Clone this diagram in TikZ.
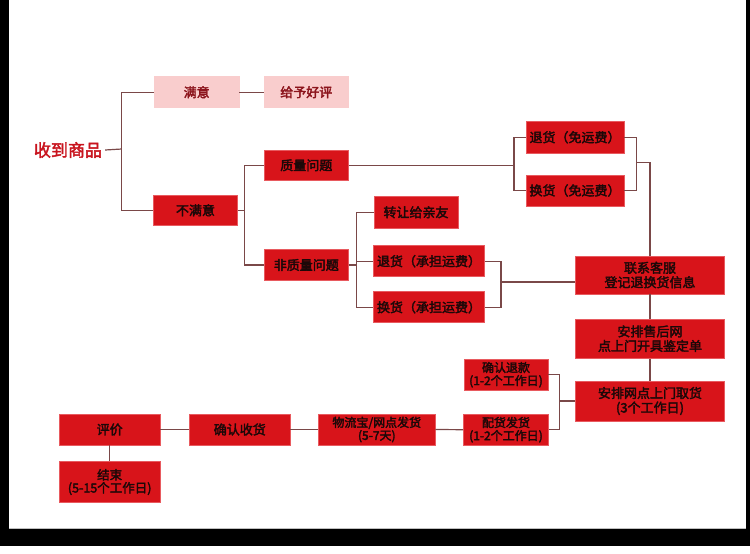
\documentclass[tikz,border=0pt]{standalone}
\usepackage{fontspec}
\newfontfamily\cjk{Noto Sans CJK SC}[FakeBold=2.6]
\definecolor{boxred}{RGB}{216,20,26}
\definecolor{boxedge}{RGB}{232,90,95}
\definecolor{pinkfill}{RGB}{249,205,205}
\definecolor{pinktext}{RGB}{140,20,28}
\definecolor{darktext}{RGB}{28,8,8}
\definecolor{conncol}{RGB}{122,72,72}
\definecolor{titlered}{RGB}{200,20,30}
\tikzset{
  rbox/.style={rectangle, fill=boxred, draw=boxedge, line width=0.6pt, inner sep=0pt,
    align=center, text=darktext, font=\cjk\fontsize{13}{14.5}\selectfont},
  pbox/.style={rbox, fill=pinkfill, draw=pinkfill, text=pinktext},
  conn/.style={draw=conncol, line width=1.2pt},
}
\begin{document}
\begin{tikzpicture}[x=1pt,y=-1pt]
\useasboundingbox (0,0) rectangle (750,554);
% frame
\fill[black] (0,0) rectangle (9,546);
\fill[black] (746,0) rectangle (750,546);
\fill[black] (0,528) rectangle (750,546);
\draw[gray!50, line width=0.6pt] (9,528) -- (746,528);

% nodes
\node[font=\cjk\fontsize{17}{20}\selectfont, text=titlered, inner sep=0pt] (shou) at (68,150) {收到商品};
\node[pbox, minimum width=84.7, minimum height=31] (manyi) at (196.7,92.2) {满意};
\node[pbox, minimum width=84, minimum height=31] (haoping) at (306.3,92.2) {给予好评};
\node[rbox, minimum width=84.4, minimum height=30.7] (bumanyi) at (195.5,210.3) {不满意};
\node[rbox, minimum width=84, minimum height=30.7] (zhiliang) at (306.3,165.3) {质量问题};
\node[rbox, minimum width=84, minimum height=31] (fei) at (306.3,265) {非质量问题};
\node[rbox, minimum width=84, minimum height=31.3] (zhuanrang) at (416,212.3) {转让给亲友};
\node[rbox, minimum width=111.4, minimum height=31] (tuib) at (429,261.2) {退货（承担运费）};
\node[rbox, minimum width=111.4, minimum height=31] (huanb) at (429,307.2) {换货（承担运费）};
\node[rbox, minimum width=98.3, minimum height=31.3] (tuia) at (575,137.3) {退货（免运费）};
\node[rbox, minimum width=98.3, minimum height=31] (huana) at (575,190.5) {换货（免运费）};
\node[rbox, minimum width=148.6, minimum height=38] (lianxi) at (650,275) {联系客服\\登记退换货信息};
\node[rbox, minimum width=148.6, minimum height=39.3] (shouhou) at (650,338.7) {安排售后网\\点上门开具鉴定单};
\node[rbox, minimum width=148.6, minimum height=40] (quhuo) at (650,401) {安排网点上门取货\\(3个工作日)};
\node[rbox, minimum width=84.3, minimum height=30.7, font=\cjk\fontsize{12}{13}\selectfont] (tuikuan) at (506,374.7) {确认退款\\(1-2个工作日)};
\node[rbox, minimum width=85, minimum height=30.7, font=\cjk\fontsize{12}{13}\selectfont] (peihuo) at (506,429.7) {配货发货\\(1-2个工作日)};
\node[rbox, minimum width=116.3, minimum height=31, font=\cjk\fontsize{12}{13}\selectfont] (wuliu) at (376.8,429.5) {物流宝/网点发货\\(5-7天)};
\node[rbox, minimum width=100.3, minimum height=31] (queren) at (239.8,429.5) {确认收货};
\node[rbox, minimum width=100.7, minimum height=31] (pingjia) at (109.7,429.5) {评价};
\node[rbox, minimum width=100.7, minimum height=40.6, font=\cjk\fontsize{12.5}{13}\selectfont] (jieshu) at (109.7,482) {结束\\(5-15个工作日)};

% junctions
\coordinate (j1) at (121.7,149);
\coordinate (j2) at (244.3,210.3);
\coordinate (j3) at (514,165.3);
\coordinate (j4) at (636.7,162.3);
\coordinate (j5) at (356.7,265);
\coordinate (j6) at (501,282);
\coordinate (j7) at (559.3,401);

% connectors
\draw[conn] ([xshift=3pt]shou.east) -- (j1);
\draw[conn] (manyi.west) -| (j1) |- (bumanyi.west);
\draw[conn] (manyi.east) -- (haoping.west);
\draw[conn] (bumanyi.east) -- (j2);
\draw[conn] (zhiliang.west) -| (j2) |- (fei.west);
\draw[conn] (zhiliang.east) -- (j3);
\draw[conn] (tuia.west) -| (j3) |- (huana.west);
\draw[conn] (tuia.east) -| (j4) |- (huana.east);
\draw[conn] (j4) -| (lianxi.north);
\draw[conn] (fei.east) -- (j5);
\draw[conn] (zhuanrang.west) -| (j5) |- (huanb.west);
\draw[conn] (j5 |- tuib.west) -- (tuib.west);
\draw[conn] (tuib.east) -| (j6) |- (huanb.east);
\draw[conn] (j6) -- (j6 -| lianxi.west);
\draw[conn] (lianxi.south) -- (shouhou.north);
\draw[conn] (shouhou.south) -- (quhuo.north);
\draw[conn] (tuikuan.east) -| (j7) |- (peihuo.east);
\draw[conn] (j7) -- (quhuo.west);
\draw[conn] (peihuo.west) -- (wuliu.east);
\draw[conn] (wuliu.west) -- (queren.east);
\draw[conn] (queren.west) -- (pingjia.east);
\draw[conn] (pingjia.south) -- (jieshu.north);
\end{tikzpicture}
\end{document}
